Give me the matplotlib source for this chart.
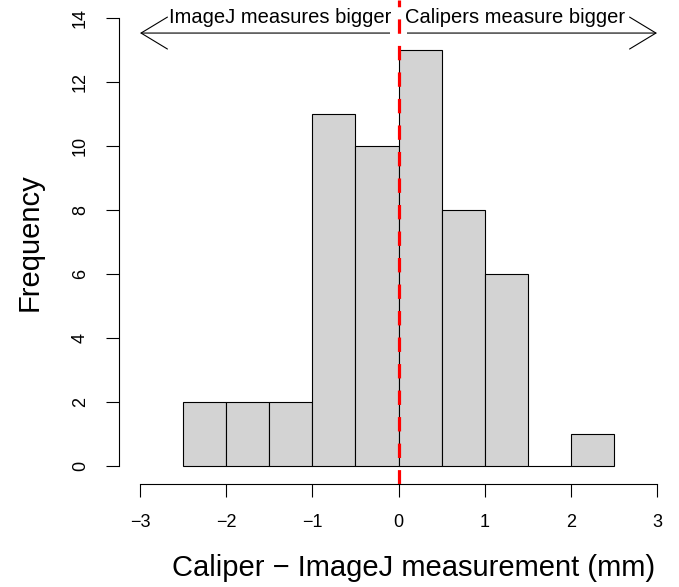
import matplotlib.pyplot as plt
import matplotlib.patches as mpatches
import numpy as np

plt.rcParams['font.family'] = ['Liberation Sans', 'DejaVu Sans']

# histogram of caliper - imagej differences
bin_edges = [-2.5, -2.0, -1.5, -1.0, -0.5, 0.0, 0.5, 1.0, 1.5, 2.0, 2.5]
counts = [2, 2, 2, 11, 10, 13, 8, 6, 0, 1]
x_ticks = [-3, -2, -1, 0, 1, 2, 3]
y_ticks = [0, 2, 4, 6, 8, 10, 12, 14]

left_text = "ImageJ measures bigger"
right_text = "Calipers measure bigger"

fig = plt.figure(figsize=(6.79, 5.87), dpi=100)
W, H = 679, 587
ax = fig.add_axes([119.3 / W, (H - 483.9) / H, (677.7 - 119.3) / W, 483.8 / H])

edges = np.array(bin_edges)
ax.bar(edges[:-1], counts, width=np.diff(edges), align='edge',
       color='#d3d3d3', edgecolor='black', linewidth=0.8, zorder=2)

ax.set_xlim(-3.24, 3.24)
ax.set_ylim(-0.56, 14.56)

for s in ['top', 'right']:
    ax.spines[s].set_visible(False)
ax.spines['bottom'].set_bounds(-3, 3)
ax.spines['left'].set_bounds(0, 14)
ax.spines['bottom'].set_linewidth(0.8)
ax.spines['left'].set_linewidth(0.8)

ax.set_xticks(x_ticks)
ax.set_yticks(y_ticks)
ax.set_yticklabels([str(v) for v in y_ticks], rotation=90, va='center')
ax.tick_params(axis='both', length=9.4, width=0.8, pad=12.5, labelsize=13)

ax.set_xlabel("Caliper \u2212 ImageJ measurement (mm)", fontsize=21, va='center')
ax.xaxis.set_label_coords(0.5 + 15 / 558.4, (483.9 - 568) / 483.8)
ax.set_ylabel("Frequency", fontsize=21, va='center')
ax.yaxis.set_label_coords((30 - 119.3) / 558.4, 0.5)

# double headed arrow with labels
ax.annotate('', xy=(-3, 13.53), xytext=(3, 13.53),
            arrowprops=dict(arrowstyle='<->, head_length=1.9, head_width=1.15',
                            color='black', lw=0.8, shrinkA=0, shrinkB=0,
                            mutation_scale=10), zorder=3)
ax.text(-0.08, 14.03, left_text, ha='right', va='center', fontsize=14.5, zorder=4)
ax.text(0.07, 14.03, right_text, ha='left', va='center', fontsize=14.5, zorder=4)
ax.add_patch(mpatches.Rectangle((-0.1, 13.32), 0.2, 0.42, facecolor='white',
                                edgecolor='none', zorder=5))

ax.axvline(0, color='red', lw=2.3, linestyle=(0, (4.5, 3.8)), zorder=6)

fig.savefig('out.png', dpi=100)
